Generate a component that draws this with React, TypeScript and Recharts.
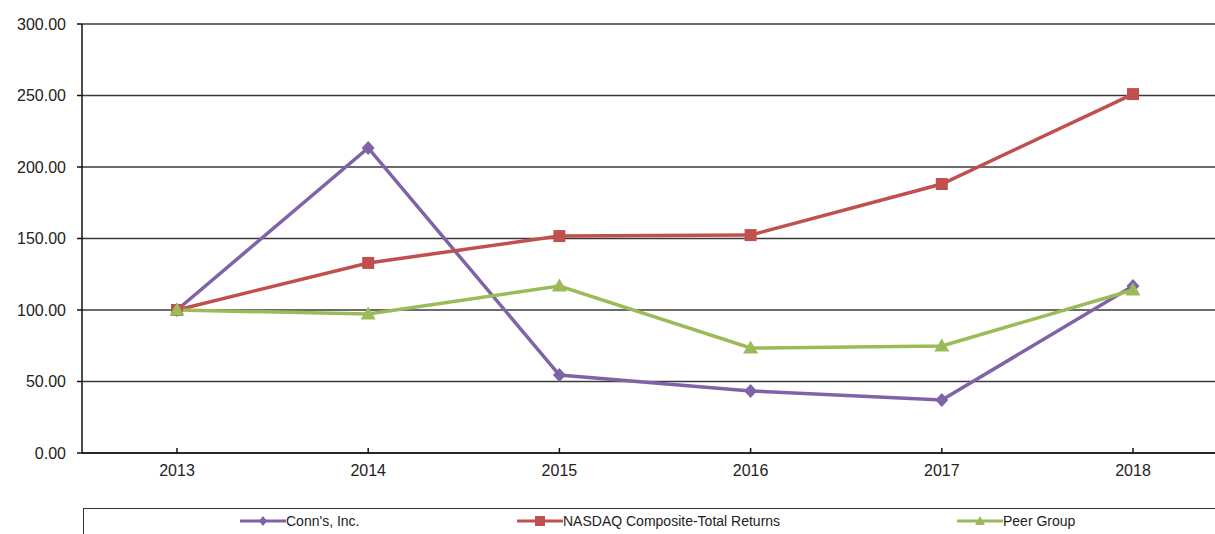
import { CartesianGrid, Line, LineChart, XAxis, YAxis } from 'recharts';

const years = ['2013', '2014', '2015', '2016', '2017', '2018'];
const conns = [100, 213.3, 54.5, 43.4, 37.0, 116.8];
const nasdaq = [100, 132.9, 151.7, 152.4, 188.1, 251.0];
const peer = [100, 97.2, 116.8, 73.4, 74.8, 114.0];
const yTicks = [0, 50, 100, 150, 200, 250, 300];

const PURPLE = '#7f63a6';
const RED = '#c0504d';
const GREEN = '#9bbb59';

const data = years.map((year, i) => ({
  year,
  conns: conns[i],
  nasdaq: nasdaq[i],
  peer: peer[i],
}));

const Diamond = (props: any) => {
  const { cx, cy } = props;
  if (cx == null || cy == null) return null;
  return <path d={`M${cx},${cy - 7} L${cx + 6.5},${cy} L${cx},${cy + 7} L${cx - 6.5},${cy} Z`} fill={PURPLE} />;
};

const Square = (props: any) => {
  const { cx, cy } = props;
  if (cx == null || cy == null) return null;
  return <rect x={cx - 6} y={cy - 6} width={12} height={12} fill={RED} />;
};

const Triangle = (props: any) => {
  const { cx, cy } = props;
  if (cx == null || cy == null) return null;
  return <path d={`M${cx},${cy - 7.5} L${cx + 7.5},${cy + 5.5} L${cx - 7.5},${cy + 5.5} Z`} fill={GREEN} />;
};

const legendItems = [
  { label: "Conn's, Inc.", color: PURPLE, left: 240, shape: 'diamond' },
  { label: 'NASDAQ Composite-Total Returns', color: RED, left: 517, shape: 'square' },
  { label: 'Peer Group', color: GREEN, left: 957, shape: 'triangle' },
];

function LegendMarker({ color, shape }: { color: string; shape: string }) {
  return (
    <svg width={46} height={12} style={{ display: 'block' }}>
      <line x1={0} y1={6} x2={46} y2={6} stroke={color} strokeWidth={3} />
      {shape === 'diamond' && <path d="M23,1 L27,6 L23,11 L19,6 Z" fill={color} />}
      {shape === 'square' && <rect x={18} y={1} width={10} height={10} fill={color} />}
      {shape === 'triangle' && <path d="M23,1 L28,10 L18,10 Z" fill={color} />}
    </svg>
  );
}

export default function App() {
  return (
    <div
      style={{
        position: 'fixed',
        left: 0,
        top: 0,
        width: 1215,
        height: 534,
        overflow: 'hidden',
        background: '#fff',
        fontFamily: '"Liberation Sans", Arial, sans-serif',
      }}
    >
      <LineChart width={1228} height={534} data={data} margin={{ top: 24, right: 0, bottom: 51, left: 0 }}>
        <CartesianGrid vertical={false} stroke="#3a3a3a" strokeWidth={1.5} />
        <XAxis
          dataKey="year"
          height={30}
          stroke="#111"
          strokeWidth={1.5}
          padding={{ left: 95, right: 95 }}
          tickSize={-5}
          tickMargin={17}
          tick={{ fill: '#222', fontSize: 16 }}
        />
        <YAxis
          width={82}
          domain={[0, 300]}
          ticks={yTicks}
          stroke="#111"
          strokeWidth={1.5}
          tickSize={5}
          tickMargin={11}
          tick={{ fill: '#222', fontSize: 16 }}
          tickFormatter={(v: number) => v.toFixed(2)}
        />
        <Line dataKey="conns" stroke={PURPLE} strokeWidth={3.5} dot={<Diamond />} isAnimationActive={false} />
        <Line dataKey="nasdaq" stroke={RED} strokeWidth={3.5} dot={<Square />} isAnimationActive={false} />
        <Line dataKey="peer" stroke={GREEN} strokeWidth={3.5} dot={<Triangle />} isAnimationActive={false} />
      </LineChart>
      <div
        style={{
          position: 'absolute',
          left: 83,
          top: 508,
          width: 1200,
          height: 40,
          borderTop: '1.5px solid #333',
          borderLeft: '1.5px solid #333',
        }}
      />
      {legendItems.map((item) => (
        <div
          key={item.label}
          style={{
            position: 'absolute',
            left: item.left,
            top: 513,
            display: 'flex',
            alignItems: 'center',
            fontSize: 14,
            color: '#222',
          }}
        >
          <LegendMarker color={item.color} shape={item.shape} />
          <span>{item.label}</span>
        </div>
      ))}
    </div>
  );
}
